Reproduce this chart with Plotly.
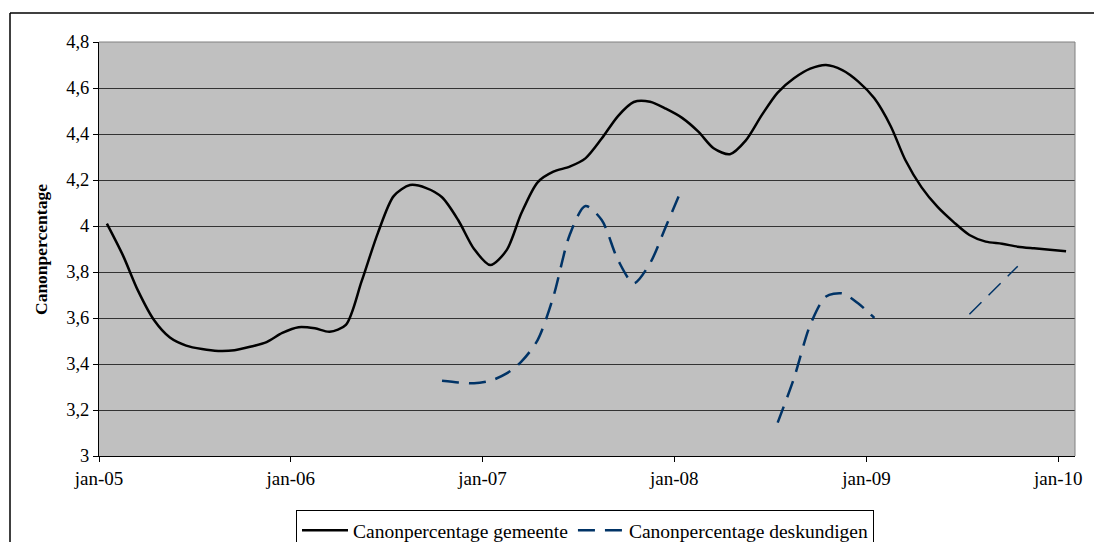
import pandas as pd
import plotly.graph_objects as go

# ---- data (monthly, jan-05 .. jan-10) ----
start_month = "2005-01-01"
n_months = 61

gemeente = [
    4.01, 3.87, 3.72, 3.59, 3.515, 3.48, 3.465, 3.457, 3.46, 3.475, 3.495, 3.535,
    3.56, 3.555, 3.54, 3.57, 3.76, 3.97, 4.13, 4.178, 4.165, 4.125, 4.025, 3.90,
    3.83, 3.895, 4.055, 4.19, 4.236, 4.258, 4.294, 4.38, 4.478, 4.539, 4.54, 4.51,
    4.47, 4.41, 4.338, 4.312, 4.371, 4.483, 4.58, 4.642, 4.684, 4.70, 4.678, 4.629,
    4.555, 4.435, 4.287, 4.168, 4.084, 4.017, 3.961, 3.932, 3.923, 3.91, 3.903, 3.897,
    3.89,
]

deskundigen = [
    None, None, None, None, None, None, None, None, None, None, None, None,
    None, None, None, None, None, None, None, None, None, 3.327, 3.32, 3.316,
    3.327, 3.359, 3.41, 3.504, 3.693, 3.961, 4.087, 4.026, 3.852, 3.751, 3.838, 3.997,
    4.164, None, None, None, None, None, 3.145, 3.338, 3.57, 3.693, 3.707, 3.664,
    3.60, None, None, None, None, None, 3.616, 3.685, 3.755, 3.825, None, None,
    None,
]
# the last deskundigen segment is drawn with a thinner line
thin_from_index = 54

series_names = ["Canonpercentage gemeente", "Canonpercentage deskundigen"]
x_tick_dates = ["2005-01-01", "2006-01-01", "2007-01-01", "2008-01-01", "2009-01-01", "2010-01-01"]
x_tick_labels = ["jan-05", "jan-06", "jan-07", "jan-08", "jan-09", "jan-10"]
y_title = "Canonpercentage"

# ---- build ----
months = pd.date_range(start_month, periods=n_months, freq="MS")
x = months + pd.Timedelta(days=15)  # points sit mid-month (between tick marks)

desk_main = [v if i < thin_from_index else None for i, v in enumerate(deskundigen)]
desk_thin = [v if i >= thin_from_index else None for i, v in enumerate(deskundigen)]

FONT = "Liberation Serif"
NAVY = "#003366"

fig = go.Figure()
fig.add_trace(go.Scatter(
    x=x, y=gemeente, mode="lines", name=series_names[0],
    line=dict(color="black", width=2.5, shape="spline", smoothing=0.8),
))
fig.add_trace(go.Scatter(
    x=x, y=desk_main, mode="lines", name=series_names[1],
    line=dict(color=NAVY, width=2.5, dash="17px,10px", shape="spline", smoothing=0.8),
    connectgaps=False,
))
fig.add_trace(go.Scatter(
    x=x, y=desk_thin, mode="lines", name=series_names[1], showlegend=False,
    line=dict(color=NAVY, width=1.5, dash="17px,10px"),
    connectgaps=False,
))

OFF = 8  # page body margin shifts the figure by this many pixels
W, H = 1102 - 2 * OFF, 542 - OFF
# target page-pixel positions of the plot area
P_LEFT, P_RIGHT, P_TOP, P_BOTTOM = 99, 1075, 42, 456
L = P_LEFT - OFF
T = P_TOP - OFF
R = W - (P_RIGHT - OFF)
B = H - (P_BOTTOM - OFF)
pw, ph = W - L - R, H - T - B

def px_x(p):
    return (p - P_LEFT) / pw

def px_y(p):
    return (P_BOTTOM - p) / ph

fig.update_layout(
    width=W, height=H,
    margin=dict(l=L, r=R, t=T, b=B, autoexpand=False),
    paper_bgcolor="white",
    plot_bgcolor="#C0C0C0",
    separators=", ",
    font=dict(family=FONT, size=18, color="black"),
    showlegend=True,
    legend=dict(
        orientation="h",
        x=px_x(296), y=px_y(510), xanchor="left", yanchor="top",
        bgcolor="white", bordercolor="black", borderwidth=1,
        font=dict(family=FONT, size=19.5, color="black"),
        itemwidth=46, tracegroupgap=0,
    ),
    xaxis=dict(
        type="date",
        range=["2005-01-01", "2010-02-02"],
        tickvals=x_tick_dates, ticktext=x_tick_labels,
        showgrid=False, zeroline=False,
        showline=True, linecolor="black", linewidth=1,
        ticks="outside", ticklen=5, tickcolor="black",
        tickfont=dict(family=FONT, size=19),
    ),
    yaxis=dict(
        range=[3, 4.8], dtick=0.2, tick0=3,
        showgrid=True, gridcolor="#333333", gridwidth=1,
        zeroline=False,
        showline=True, linecolor="black", linewidth=1,
        ticks="outside", ticklen=5, tickcolor="black",
        tickfont=dict(family=FONT, size=18.5),
    ),
    shapes=[
        # grey top and right border of plot area
        dict(type="line", xref="paper", yref="paper", x0=0, x1=1, y0=1, y1=1,
             line=dict(color="#808080", width=1)),
        dict(type="line", xref="paper", yref="paper", x0=1, x1=1, y0=0, y1=1,
             line=dict(color="#808080", width=1)),
        # outer chart frame (top and left edges visible)
        dict(type="line", xref="paper", yref="paper",
             x0=px_x(10), x1=px_x(1120), y0=px_y(13), y1=px_y(13),
             line=dict(color="black", width=1.5)),
        dict(type="line", xref="paper", yref="paper",
             x0=px_x(10), x1=px_x(10), y0=px_y(13), y1=px_y(580),
             line=dict(color="black", width=1.5)),
    ],
    annotations=[
        dict(text=f"<b>{y_title}</b>", xref="paper", yref="paper",
             x=px_x(41), y=px_y(250), xanchor="center", yanchor="middle",
             textangle=-90, showarrow=False,
             font=dict(family=FONT, size=17.5, color="black")),
    ],
)

fig.write_html("out.html")
